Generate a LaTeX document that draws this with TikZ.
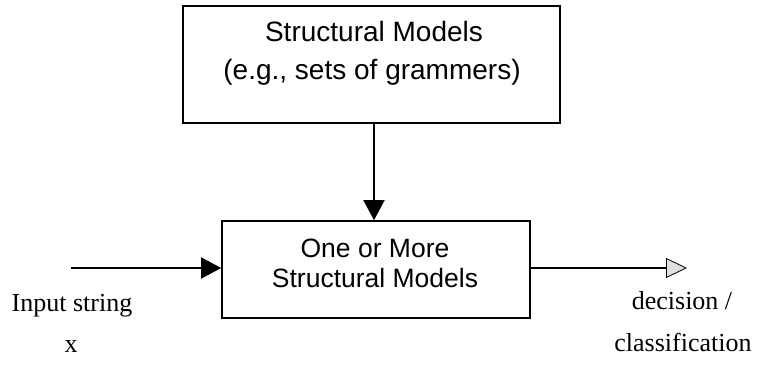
\documentclass[tikz,border=0pt]{standalone}
\usepackage{fontspec}
\setmainfont{Liberation Serif}
\setsansfont{Liberation Sans}
\usetikzlibrary{arrows.meta}
\begin{document}
\begin{tikzpicture}[x=1pt,y=-1pt,
  box/.style={draw,line width=1.6pt,inner sep=0pt},
  boxtext/.style={anchor=base,inner sep=0pt,font=\sffamily\fontsize{28}{34}\selectfont},
  boxtextb/.style={anchor=base,inner sep=0pt,font=\sffamily\fontsize{26.5}{32}\selectfont},
  conn/.style={line width=1.6pt},
  blackhead/.style={-{Triangle[length=20pt,width=21pt]}},
  grayhead/.style={-{Triangle[length=21pt,width=20pt,fill=gray!25,line width=0.8pt]}},
  lbl/.style={anchor=base,inner sep=0pt,font=\fontsize{26}{30}\selectfont}]
\useasboundingbox (0,0) rectangle (757,366);
\node[box,minimum width=377pt,minimum height=117pt] (top) at (371.5,64.5) {};
\node[boxtext] (t1) at (374,42) {Structural Models};
\node[boxtext] (t2) at (372,80) {(e.g., sets of grammers)};
\node[box,minimum width=308pt,minimum height=97pt] (bot) at (376,269.5) {};
\node[boxtextb] (b1) at (375,257) {One or More};
\node[boxtextb] (b2) at (375,287) {Structural Models};
\coordinate (vx) at (374,0);
\coordinate (in) at (71,268);
\coordinate (out) at (687,268);
\draw[conn,blackhead] (top.south -| vx) -- (bot.north -| vx);
\draw[conn,blackhead] (in) -- (in -| bot.west);
\draw[conn,grayhead] (out -| bot.east) -- (out);
\node[lbl] (instr) at (72,311) {Input string};
\node[lbl] (x) at (71,352) {x};
\node[lbl] (dec) at (682,309) {decision /};
\node[lbl] (cls) at (683,351) {classification};
\end{tikzpicture}
\end{document}
